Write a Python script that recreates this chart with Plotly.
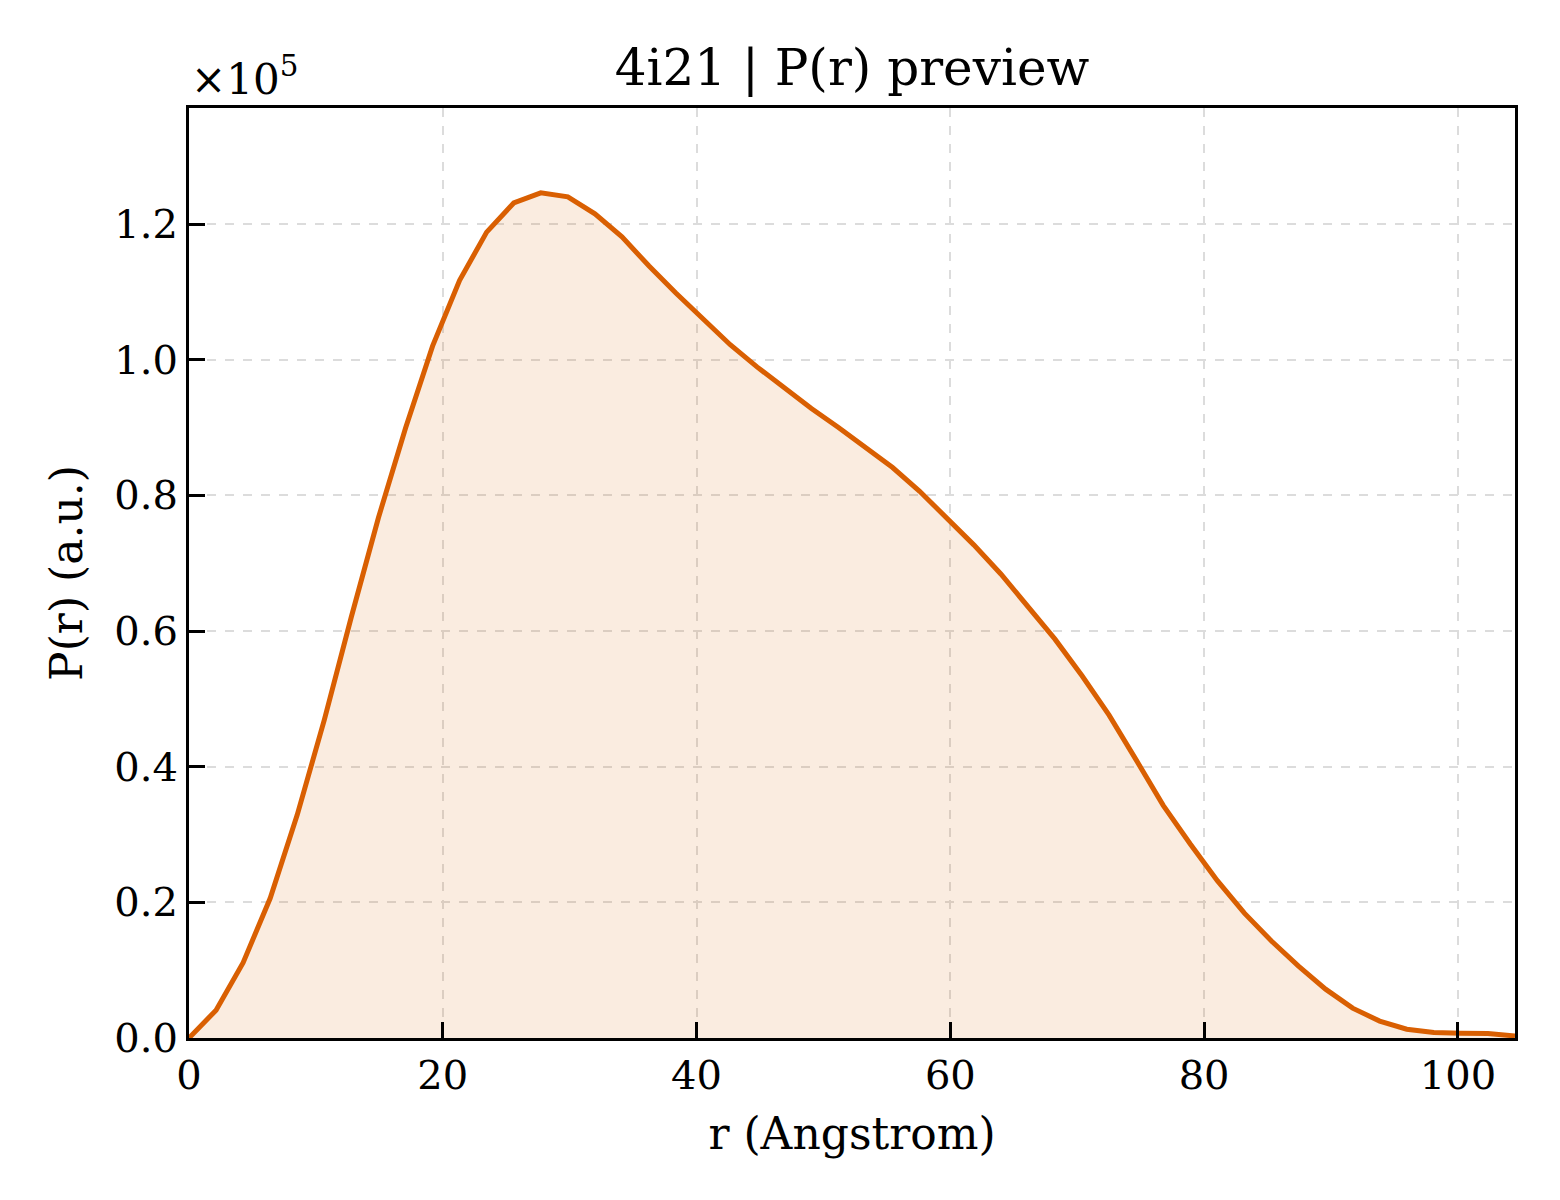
import numpy as np
import plotly.graph_objects as go

# r grid of the P(r) preview (50 points, 0 .. Dmax)
r_max = 104.5
r = np.linspace(0, r_max, 50)

# P(r) values, in units of 1e5
pr = [0.000, 0.041, 0.111, 0.206, 0.329, 0.469, 0.621, 0.767, 0.899, 1.020,
      1.117, 1.188, 1.231, 1.246, 1.240, 1.215, 1.181, 1.138, 1.098, 1.059,
      1.022, 0.989, 0.958, 0.928, 0.900, 0.871, 0.841, 0.806, 0.767, 0.727,
      0.684, 0.637, 0.588, 0.534, 0.476, 0.410, 0.343, 0.286, 0.232, 0.184,
      0.143, 0.106, 0.072, 0.044, 0.025, 0.013, 0.008, 0.007, 0.0065, 0.003]

font = "DejaVu Serif"
orange = "#d95f02"

# page body has an 8px margin, so the figure is a bit smaller than the window
W, H = 1552, 1192

fig = go.Figure(go.Scatter(
    x=r, y=pr, mode="lines",
    line=dict(color=orange, width=5),
    fill="tozeroy", fillcolor="rgba(217,95,2,0.12)",
    showlegend=False))

axis_common = dict(
    showline=True, linecolor="black", linewidth=3.2, mirror=True,
    ticks="inside", ticklen=16, tickwidth=2.5, tickcolor="black",
    showgrid=True, gridcolor="#dcdcdc", gridwidth=1.5, griddash="dash",
    zeroline=False,
    tickfont=dict(family=font, size=40, color="black"),
)

fig.update_xaxes(axis_common, range=[0, r_max], dtick=20,
                 title=dict(text="r (Angstrom)", standoff=22,
                            font=dict(family=font, size=44, color="black")))
fig.update_yaxes(axis_common, range=[0, 1.371], dtick=0.2, tickformat=".1f",
                 title=dict(text="P(r) (a.u.)", standoff=18,
                            font=dict(family=font, size=44, color="black")))

fig.add_annotation(text="×10<sup>5</sup>", xref="paper", yref="paper",
                   x=0, y=1, xanchor="left", yanchor="bottom", yshift=2,
                   showarrow=False, font=dict(family=font, size=42, color="black"))

fig.update_layout(
    width=W, height=H,
    margin=dict(l=181, r=45, t=100, b=162, autoexpand=False),
    plot_bgcolor="white", paper_bgcolor="white",
    title=dict(text="4i21 | P(r) preview", x=0.5, xref="paper", xanchor="center",
               y=1 - 59 / H, yanchor="middle", yref="container",
               font=dict(family=font, size=50, color="black")),
)

fig.write_html("out.html")
